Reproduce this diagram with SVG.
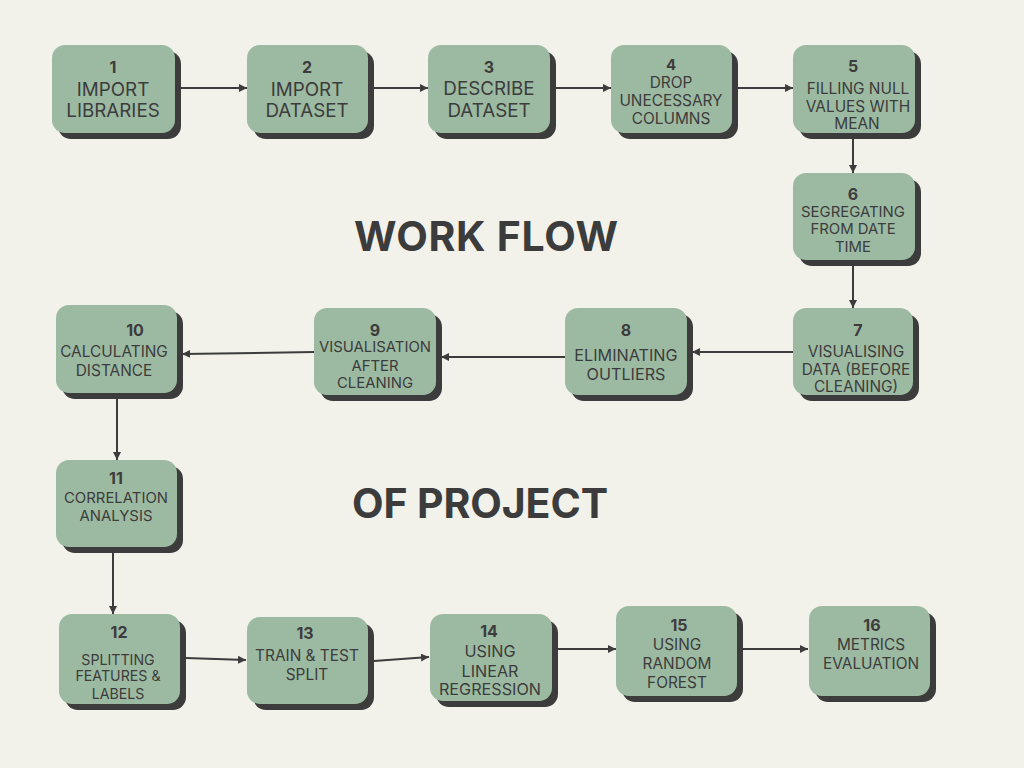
<svg xmlns="http://www.w3.org/2000/svg" width="1024" height="768" viewBox="0 0 1024 768">
<defs>
<marker id="ah" markerUnits="userSpaceOnUse" markerWidth="9" markerHeight="9" refX="8" refY="4" orient="auto">
<path d="M0,0 L8,4 L0,8 z" fill="#3c3c3c"/>
</marker>
<style>
.sh{fill:#3c3c3c}
.bx{fill:#9cbaa2}
text{font-family:Inter,"Liberation Sans",Arial,sans-serif;fill:#3c3c3c;text-anchor:middle}
.n{font-weight:700;font-size:16px}
.n4{font-weight:700;font-size:15px}
.l18{font-size:18.8px}
.l16{font-size:16.2px}
.l15{font-size:15.4px}
.l147{font-size:14.9px}
.l14{font-size:14.2px}
.ttl{font-weight:700;font-size:41px;text-anchor:start}
.c{fill:none;stroke:#3c3c3c;stroke-width:2;marker-end:url(#ah)}
</style>
</defs>
<rect width="1024" height="768" fill="#f2f2eb"/>
<text class="ttl" x="354" y="251" textLength="264">WORK FLOW</text>
<text class="ttl" x="352" y="518" textLength="256">OF PROJECT</text>
<g id="connectors">
<line class="c" x1="180" y1="88" x2="247" y2="88"/>
<line class="c" x1="373" y1="88" x2="428" y2="88"/>
<line class="c" x1="555" y1="88" x2="611" y2="88"/>
<line class="c" x1="737" y1="88" x2="793" y2="88"/>
<line class="c" x1="853" y1="138" x2="853" y2="173"/>
<line class="c" x1="853" y1="265" x2="853" y2="308"/>
<line class="c" x1="793" y1="352" x2="692" y2="352"/>
<line class="c" x1="565" y1="357" x2="441" y2="357"/>
<line class="c" x1="314" y1="352" x2="182" y2="354"/>
<line class="c" x1="117" y1="398" x2="117" y2="460"/>
<line class="c" x1="113" y1="553" x2="113" y2="614"/>
<line class="c" x1="186" y1="658" x2="246" y2="660"/>
<line class="c" x1="374" y1="661" x2="429" y2="657"/>
<line class="c" x1="557" y1="649" x2="616" y2="649"/>
<line class="c" x1="742" y1="649" x2="808" y2="649"/>
</g>
<g id="node1">
<rect class="sh" x="58" y="51" width="123" height="88" rx="13"/>
<rect class="bx" x="52" y="45" width="123" height="88" rx="13"/>
<text class="n" x="113" y="73">1</text>
<text class="l18" x="113" y="96">IMPORT</text>
<text class="l18" x="113" y="117">LIBRARIES</text>
</g>
<g id="node2">
<rect class="sh" x="253" y="51" width="121" height="88" rx="13"/>
<rect class="bx" x="247" y="45" width="121" height="88" rx="13"/>
<text class="n" x="307" y="73">2</text>
<text class="l18" x="307" y="96">IMPORT</text>
<text class="l18" x="307" y="117">DATASET</text>
</g>
<g id="node3">
<rect class="sh" x="434" y="51" width="122" height="88" rx="13"/>
<rect class="bx" x="428" y="45" width="122" height="88" rx="13"/>
<text class="n" x="489" y="73">3</text>
<text class="l18" x="489" y="95">DESCRIBE</text>
<text class="l18" x="489" y="117">DATASET</text>
</g>
<g id="node4">
<rect class="sh" x="617" y="51" width="121" height="88" rx="13"/>
<rect class="bx" x="611" y="45" width="121" height="88" rx="13"/>
<text class="n4" x="671" y="70">4</text>
<text class="l15" x="671" y="88">DROP</text>
<text class="l15" x="671" y="106">UNECESSARY</text>
<text class="l15" x="671" y="124">COLUMNS</text>
</g>
<g id="node5">
<rect class="sh" x="799" y="51" width="122" height="88" rx="13"/>
<rect class="bx" x="793" y="45" width="122" height="88" rx="13"/>
<text class="n" x="853" y="72">5</text>
<text class="l15" x="858" y="94">FILLING NULL</text>
<text class="l15" x="858" y="112">VALUES WITH</text>
<text class="l15" x="857" y="129">MEAN</text>
</g>
<g id="node6">
<rect class="sh" x="799" y="179" width="122" height="87" rx="13"/>
<rect class="bx" x="793" y="173" width="122" height="87" rx="13"/>
<text class="n" x="853" y="200">6</text>
<text class="l147" x="853" y="217">SEGREGATING</text>
<text class="l147" x="853" y="234">FROM DATE</text>
<text class="l147" x="853" y="252">TIME</text>
</g>
<g id="node7">
<rect class="sh" x="799" y="314" width="120" height="87" rx="13"/>
<rect class="bx" x="793" y="308" width="120" height="87" rx="13"/>
<text class="n" x="858" y="336">7</text>
<text class="l15" x="856" y="357">VISUALISING</text>
<text class="l15" x="856" y="375">DATA (BEFORE</text>
<text class="l15" x="856" y="392">CLEANING)</text>
</g>
<g id="node8">
<rect class="sh" x="571" y="314" width="122" height="87" rx="13"/>
<rect class="bx" x="565" y="308" width="122" height="87" rx="13"/>
<text class="n" x="626" y="336">8</text>
<text class="l16" x="626" y="361">ELIMINATING</text>
<text class="l16" x="626" y="380">OUTLIERS</text>
</g>
<g id="node9">
<rect class="sh" x="320" y="314" width="122" height="87" rx="13"/>
<rect class="bx" x="314" y="308" width="122" height="87" rx="13"/>
<text class="n" x="375" y="336">9</text>
<text class="l147" x="375" y="352">VISUALISATION</text>
<text class="l147" x="375" y="371">AFTER</text>
<text class="l147" x="375" y="388">CLEANING</text>
</g>
<g id="node10">
<rect class="sh" x="62" y="311" width="121" height="88" rx="13"/>
<rect class="bx" x="56" y="305" width="121" height="88" rx="13"/>
<text class="n" x="135" y="336">10</text>
<text class="l15" x="114" y="357">CALCULATING</text>
<text class="l15" x="114" y="376">DISTANCE</text>
</g>
<g id="node11">
<rect class="sh" x="62" y="466" width="121" height="87" rx="13"/>
<rect class="bx" x="56" y="460" width="121" height="87" rx="13"/>
<text class="n" x="116" y="484">11</text>
<text class="l147" x="116" y="503">CORRELATION</text>
<text class="l147" x="116" y="521">ANALYSIS</text>
</g>
<g id="node12">
<rect class="sh" x="65" y="620" width="121" height="90" rx="13"/>
<rect class="bx" x="59" y="614" width="121" height="90" rx="13"/>
<text class="n" x="119" y="638">12</text>
<text class="l14" x="118" y="665">SPLITTING</text>
<text class="l14" x="118" y="681">FEATURES &amp;</text>
<text class="l14" x="118" y="699">LABELS</text>
</g>
<g id="node13">
<rect class="sh" x="253" y="623" width="121" height="87" rx="13"/>
<rect class="bx" x="247" y="617" width="121" height="87" rx="13"/>
<text class="n" x="305" y="639">13</text>
<text class="l15" x="307" y="661">TRAIN &amp; TEST</text>
<text class="l15" x="307" y="680">SPLIT</text>
</g>
<g id="node14">
<rect class="sh" x="436" y="620" width="122" height="87" rx="13"/>
<rect class="bx" x="430" y="614" width="122" height="87" rx="13"/>
<text class="n" x="489" y="637">14</text>
<text class="l16" x="490" y="657">USING</text>
<text class="l16" x="490" y="677">LINEAR</text>
<text class="l16" x="490" y="695">REGRESSION</text>
</g>
<g id="node15">
<rect class="sh" x="622" y="612" width="121" height="90" rx="13"/>
<rect class="bx" x="616" y="606" width="121" height="90" rx="13"/>
<text class="n" x="679" y="631">15</text>
<text class="l15" x="677" y="650">USING</text>
<text class="l15" x="677" y="669">RANDOM</text>
<text class="l15" x="677" y="688">FOREST</text>
</g>
<g id="node16">
<rect class="sh" x="815" y="612" width="121" height="90" rx="13"/>
<rect class="bx" x="809" y="606" width="121" height="90" rx="13"/>
<text class="n" x="872" y="631">16</text>
<text class="l15" x="871" y="650">METRICS</text>
<text class="l15" x="871" y="669">EVALUATION</text>
</g>
</svg>
